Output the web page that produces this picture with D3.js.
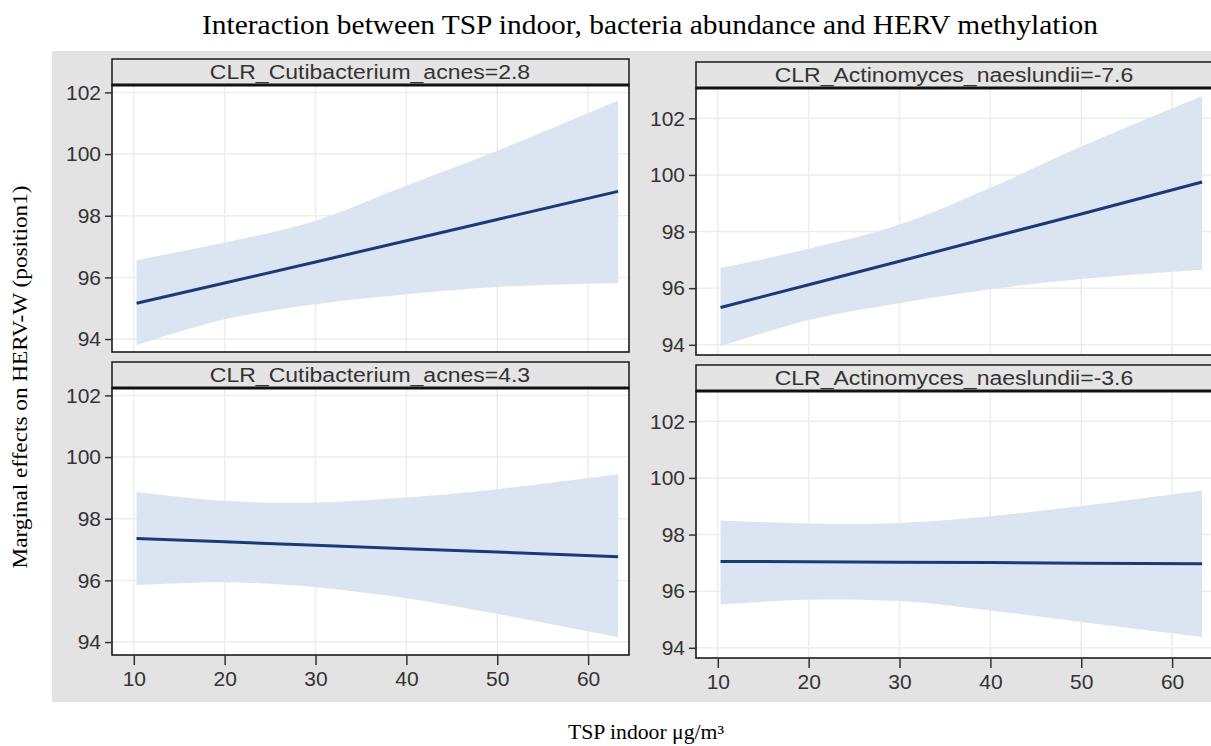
<!DOCTYPE html>
<html><head><meta charset="utf-8">
<script src="https://cdn.jsdelivr.net/npm/d3@7"></script>
<style>body{margin:0;background:#fff}svg{display:block}</style>
</head><body><svg id="c" width="1211" height="746"></svg>
<script>
// ---------- data ----------
const chartTitle = "Interaction between TSP indoor, bacteria abundance and HERV methylation";
const xTitle = "TSP indoor \u03bcg/m\u00b3";
const yTitle = "Marginal effects on HERV-W (position1)";
const panelLabels = [
  "CLR_Cutibacterium_acnes=2.8",
  "CLR_Actinomyces_naeslundii=-7.6",
  "CLR_Cutibacterium_acnes=4.3",
  "CLR_Actinomyces_naeslundii=-3.6"
];
const tspValues = [10.3, 20, 30, 40, 50, 63.3];
const xTickValues = [10, 20, 30, 40, 50, 60];
const yTickValues = [94, 96, 98, 100, 102];

const acnes28Est   = [95.16, 95.82, 96.50, 97.19, 97.88, 98.79];
const acnes28Upper = [96.56, 97.13, 97.84, 98.98, 100.11, 101.74];
const acnes28Lower = [93.80, 94.64, 95.13, 95.45, 95.69, 95.82];

const naes76Est   = [95.32, 96.12, 96.95, 97.79, 98.62, 99.75];
const naes76Upper = [96.71, 97.39, 98.25, 99.55, 101.00, 102.79];
const naes76Lower = [93.94, 94.88, 95.47, 95.96, 96.32, 96.65];

const acnes43Est   = [97.36, 97.25, 97.14, 97.03, 96.92, 96.77];
const acnes43Upper = [98.87, 98.58, 98.53, 98.69, 98.96, 99.44];
const acnes43Lower = [95.85, 95.94, 95.78, 95.42, 94.91, 94.16];

const naes36Est   = [97.05, 97.04, 97.02, 97.01, 96.99, 96.97];
const naes36Upper = [98.50, 98.39, 98.41, 98.65, 99.01, 99.56];
const naes36Lower = [95.53, 95.70, 95.65, 95.32, 94.91, 94.38];

// ---------- layout ----------
const svg = d3.select("#c");
const SANS = "'Liberation Sans', Arial, sans-serif";
const SERIF = "'Liberation Serif', 'Times New Roman', serif";
const frameW = 517, plotH = 267, headH = 26;
const leftDomain = [93.58, 102.24];
const rightDomain = [93.64, 103.07];
const xDomain = [7.6, 64.5];

const panels = [
  {label: panelLabels[0], est: acnes28Est, hi: acnes28Upper, lo: acnes28Lower, x0: 112, hy: 59, yDom: leftDomain, xAxis: false},
  {label: panelLabels[1], est: naes76Est,  hi: naes76Upper,  lo: naes76Lower,  x0: 696, hy: 62, yDom: rightDomain, xAxis: false},
  {label: panelLabels[2], est: acnes43Est, hi: acnes43Upper, lo: acnes43Lower, x0: 112, hy: 362, yDom: leftDomain, xAxis: true},
  {label: panelLabels[3], est: naes36Est,  hi: naes36Upper,  lo: naes36Lower,  x0: 696, hy: 365, yDom: rightDomain, xAxis: true}
];

// gray background
svg.append("rect").attr("x", 52).attr("y", 51).attr("width", 1211 - 52).attr("height", 702 - 51).attr("fill", "#e3e3e3");

panels.forEach(p => {
  const py = p.hy + headH;
  const x = d3.scaleLinear().domain(xDomain).range([p.x0, p.x0 + frameW]);
  const y = d3.scaleLinear().domain(p.yDom).range([py + plotH, py]);
  const g = svg.append("g");
  // plot bg
  g.append("rect").attr("x", p.x0).attr("y", py).attr("width", frameW).attr("height", plotH).attr("fill", "#fff");
  // grid
  g.selectAll("line.gx").data(xTickValues).join("line")
    .attr("x1", d => x(d)).attr("x2", d => x(d)).attr("y1", py).attr("y2", py + plotH)
    .attr("stroke", "#ededed").attr("stroke-width", 1.5);
  g.selectAll("line.gy").data(yTickValues).join("line")
    .attr("x1", p.x0).attr("x2", p.x0 + frameW).attr("y1", d => y(d)).attr("y2", d => y(d))
    .attr("stroke", "#ededed").attr("stroke-width", 1.5);
  const rows = tspValues.map((t, i) => ({t, e: p.est[i], h: p.hi[i], l: p.lo[i]}));
  g.append("path").datum(rows)
    .attr("d", d3.area().x(d => x(d.t)).y0(d => y(d.l)).y1(d => y(d.h)).curve(d3.curveCatmullRom.alpha(0.5)))
    .attr("fill", "#dbe5f2");
  g.append("path").datum(rows)
    .attr("d", d3.line().x(d => x(d.t)).y(d => y(d.e)))
    .attr("fill", "none").attr("stroke", "#1b3a75").attr("stroke-width", 3);
  // frame
  g.append("rect").attr("x", p.x0).attr("y", py).attr("width", frameW).attr("height", plotH)
    .attr("fill", "none").attr("stroke", "#1a1a1a").attr("stroke-width", 1.6);
  // header
  g.append("rect").attr("x", p.x0).attr("y", p.hy).attr("width", frameW).attr("height", headH)
    .attr("fill", "#e4e4e4").attr("stroke", "#1a1a1a").attr("stroke-width", 1.5);
  g.append("line").attr("x1", p.x0).attr("x2", p.x0 + frameW).attr("y1", py).attr("y2", py)
    .attr("stroke", "#111").attr("stroke-width", 3);
  const ht = g.append("text").attr("x", p.x0 + 258).attr("y", p.hy + headH / 2 + 7)
    .attr("text-anchor", "middle").attr("font-family", SANS).attr("font-size", 20)
    .attr("fill", "#333").text(p.label);
  const w = ht.node().getComputedTextLength();
  ht.attr("textLength", w * 1.15).attr("lengthAdjust", "spacingAndGlyphs");
  // y axis
  const ya = g.append("g").attr("transform", `translate(${p.x0},0)`)
    .call(d3.axisLeft(y).tickValues(yTickValues).tickSize(7).tickPadding(4).tickFormat(d3.format("d")));
  ya.select(".domain").remove();
  ya.selectAll("line").attr("stroke", "#333").attr("stroke-width", 1.5);
  ya.selectAll("text").attr("font-family", SANS).attr("font-size", 21).attr("fill", "#333");
  if (p.xAxis) {
    const xa = g.append("g").attr("transform", `translate(0,${py + plotH})`)
      .call(d3.axisBottom(x).tickValues(xTickValues).tickSize(10).tickPadding(6).tickFormat(d3.format("d")));
    xa.select(".domain").remove();
    xa.selectAll("line").attr("stroke", "#333").attr("stroke-width", 1.5);
    xa.selectAll("text").attr("font-family", SANS).attr("font-size", 21).attr("fill", "#333");
  }
});

// titles
svg.append("text").attr("x", 650).attr("y", 34).attr("text-anchor", "middle")
  .attr("font-family", SERIF).attr("font-size", 27).attr("fill", "#000")
  .attr("textLength", 896).attr("lengthAdjust", "spacingAndGlyphs").text(chartTitle);
svg.append("text").attr("x", 646).attr("y", 739).attr("text-anchor", "middle")
  .attr("font-family", SERIF).attr("font-size", 20).attr("fill", "#000")
  .attr("textLength", 156).attr("lengthAdjust", "spacingAndGlyphs").text(xTitle);
svg.append("text").attr("transform", "translate(27,377) rotate(-90)").attr("text-anchor", "middle")
  .attr("font-family", SERIF).attr("font-size", 20).attr("fill", "#000")
  .attr("textLength", 383).attr("lengthAdjust", "spacingAndGlyphs").text(yTitle);
</script>
</body></html>
